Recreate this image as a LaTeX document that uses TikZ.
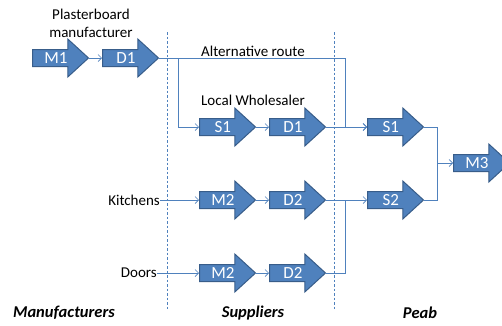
\documentclass[tikz,border=0pt]{standalone}
\usepackage{fontspec}
\setmainfont{Carlito}
\usetikzlibrary{shapes.arrows,arrows.meta}
\definecolor{abfill}{HTML}{4F81BD}
\definecolor{abdraw}{HTML}{385D8A}
\definecolor{cline}{HTML}{4F81BD}
\tikzset{
  arr/.style={single arrow, anchor=tail, fill=abfill, draw=abdraw, line width=1pt,
    single arrow head extend=10.5pt, minimum height=56pt, single arrow tip angle=85,
    inner xsep=2pt, inner ysep=2pt, text height=11pt, text depth=1pt,
    text=white, font=\fontsize{17}{17}\selectfont},
  conn/.style={draw=cline, line width=0.7pt},
  cona/.style={conn, -{Straight Barb[length=3.5pt,width=7pt,line width=0.7pt]}},
  sep/.style={draw=cline, line width=0.7pt, dash pattern=on 2.5pt off 2pt},
  lbl/.style={font=\fontsize{15}{18}\selectfont, inner sep=0pt},
  hdr/.style={font=\fontsize{16.5}{18}\selectfont\bfseries\itshape, inner sep=0pt}
}
\begin{document}
\begin{tikzpicture}[x=1pt,y=-1pt]
\useasboundingbox[fill=white] (0,0) rectangle (502,325);
% separators
\coordinate (sa1) at (167,32); \coordinate (sa2) at (167,309);
\coordinate (sb1) at (334,32); \coordinate (sb2) at (334,309);
\draw[sep] (sa1) -- (sa2);
\draw[sep] (sb1) -- (sb2);
% arrows
\node[arr] (m1) at (32,58) {M1};
\node[arr] (d1a) at (102,58) {D1};
\node[arr] (s1a) at (199,127) {S1};
\node[arr] (d1b) at (269,127) {D1};
\node[arr] (m2a) at (199,200) {M2};
\node[arr] (d2a) at (269,200) {D2};
\node[arr] (m2b) at (199,273) {M2};
\node[arr] (d2b) at (269,273) {D2};
\node[arr] (s1p) at (367,127) {S1};
\node[arr] (s2p) at (367,200) {S2};
\node[arr] (m3) at (453,163) {M3};
% labels
\node[lbl, align=center] (pm) at (91,23) {Plasterboard\\manufacturer};
\node[lbl] (alt) at (253,51) {Alternative route};
\node[lbl] (lw) at (253,100) {Local Wholesaler};
\node[lbl, anchor=east] (kit) at (160,200) {Kitchens};
\node[lbl, anchor=east] (doo) at (157,273) {Doors};
\node[hdr] (hm) at (64,313) {Manufacturers};
\node[hdr] (hs) at (253,313) {Suppliers};
\node[hdr] (hp) at (420,313) {Peab};
% junction points
\coordinate (jalt) at (345,58);
\coordinate (jlw) at (178,58);
\coordinate (jdoor) at (345,200);
\coordinate (jm3) at (437,163);
% connectors
\draw[cona] (m1.tip) -- (d1a.tail);
\draw[cona] (d1a.tip) -- (jalt) |- (s1p.tail);
\draw[cona] (jlw) |- (s1a.tail);
\draw[cona] (s1a.tip) -- (d1b.tail);
\draw[cona] (d1b.tip) -- (s1p.tail);
\draw[cona] (kit.east) -- (m2a.tail);
\draw[cona] (m2a.tip) -- (d2a.tail);
\draw[cona] (d2a.tip) -- (s2p.tail);
\draw[cona] (doo.east) -- (m2b.tail);
\draw[cona] (m2b.tip) -- (d2b.tail);
\draw[conn] (d2b.tip) -| (jdoor);
\draw[conn] (s1p.tip) -| (jm3);
\draw[conn] (s2p.tip) -| (jm3);
\draw[cona] (jm3) -- (m3.tail);
\end{tikzpicture}
\end{document}
